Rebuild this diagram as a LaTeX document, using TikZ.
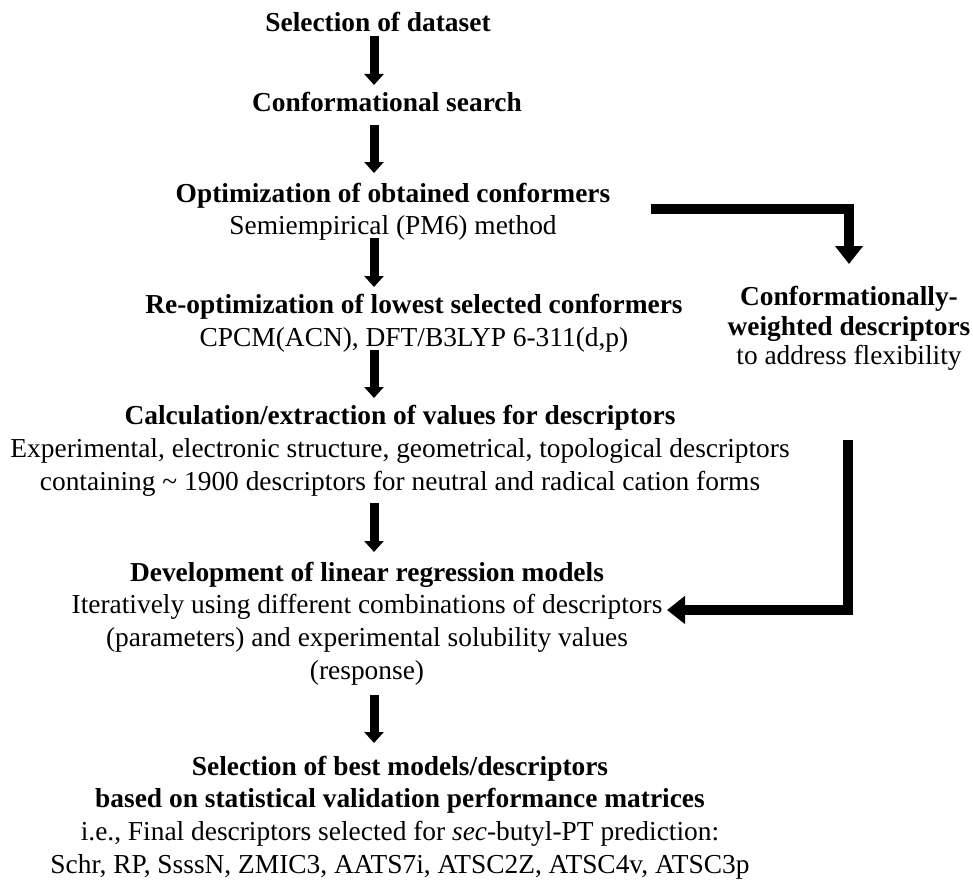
\documentclass[tikz,border=0pt]{standalone}
\usepackage{fontspec}
\setmainfont{Liberation Serif}
\usetikzlibrary{arrows.meta}
\begin{document}
\begin{tikzpicture}[x=1pt,y=-1pt,
  txt/.style={inner sep=0pt, align=center, font=\fontsize{27.4}{32.7}\selectfont},
  sidetxt/.style={inner sep=0pt, align=center, font=\fontsize{27.4}{29.5}\selectfont},
  flow/.style={line width=9pt, -{Triangle[width=19pt,length=11pt]}},
  side/.style={line width=9.5pt, line join=miter, -{Triangle[width=27pt,length=18pt]}}]
\useasboundingbox (0,0) rectangle (973,880);
\coordinate (ax) at (374,0);
\node[txt, anchor=base] (t1) at (378,32) {\textbf{Selection of dataset}};
\node[txt, anchor=base] (t2) at (387,112) {\textbf{Conformational search}};
\node[txt] (t3) at (393,211.9) {\textbf{Optimization of obtained conformers}\\Semiempirical (PM6) method};
\node[txt] (t4) at (414,323.3) {\textbf{Re-optimization of lowest selected conformers}\\CPCM(ACN), DFT/B3LYP 6-311(d,p)};
\node[txt] (t5) at (400,450.7) {\textbf{Calculation/extraction of values for descriptors}\\Experimental, electronic structure, geometrical, topological descriptors\\containing \textasciitilde{} 1900 descriptors for neutral and radical cation forms};
\node[txt] (t6) at (367,623.6) {\textbf{Development of linear regression models}\\Iteratively using different combinations of descriptors\\(parameters) and experimental solubility values\\(response)};
\node[sidetxt] (t7) at (849,328.5) {\textbf{Conformationally-}\\\textbf{weighted descriptors}\\to address flexibility};
\node[txt] (t8) at (400,817.6) {\textbf{Selection of best models/descriptors}\\\textbf{based on statistical validation performance matrices}\\i.e., Final descriptors selected for \textit{sec}-butyl-PT prediction:\\Schr, RP, SsssN, ZMIC3, AATS7i, ATSC2Z, ATSC4v, ATSC3p};
\draw[flow, shorten <=4pt, shorten >=27pt] (t1.base -| ax) -- (t2.base -| ax);
\draw[flow, shorten <=13pt, shorten >=38.9pt] (t2.base -| ax) -- (t3.center -| ax);
\draw[flow, shorten <=26.1pt, shorten >=36.3pt] (t3.center -| ax) -- (t4.center -| ax);
\draw[flow, shorten <=26.7pt, shorten >=52.7pt] (t4.center -| ax) -- (t5.center -| ax);
\draw[flow, shorten <=52.3pt, shorten >=71.6pt] (t5.center -| ax) -- (t6.center -| ax);
\draw[flow, shorten <=71.4pt, shorten >=74.6pt] (t6.center -| ax) -- (t8.center -| ax);
\coordinate (c1) at (651,209);
\draw[side, shorten >=64.5pt] (c1) -| (t7.center);
\coordinate (c2) at (848,440);
\draw[side, shorten >=300pt] (c2) |- ([yshift=13.6pt]t6.center);
\end{tikzpicture}
\end{document}
